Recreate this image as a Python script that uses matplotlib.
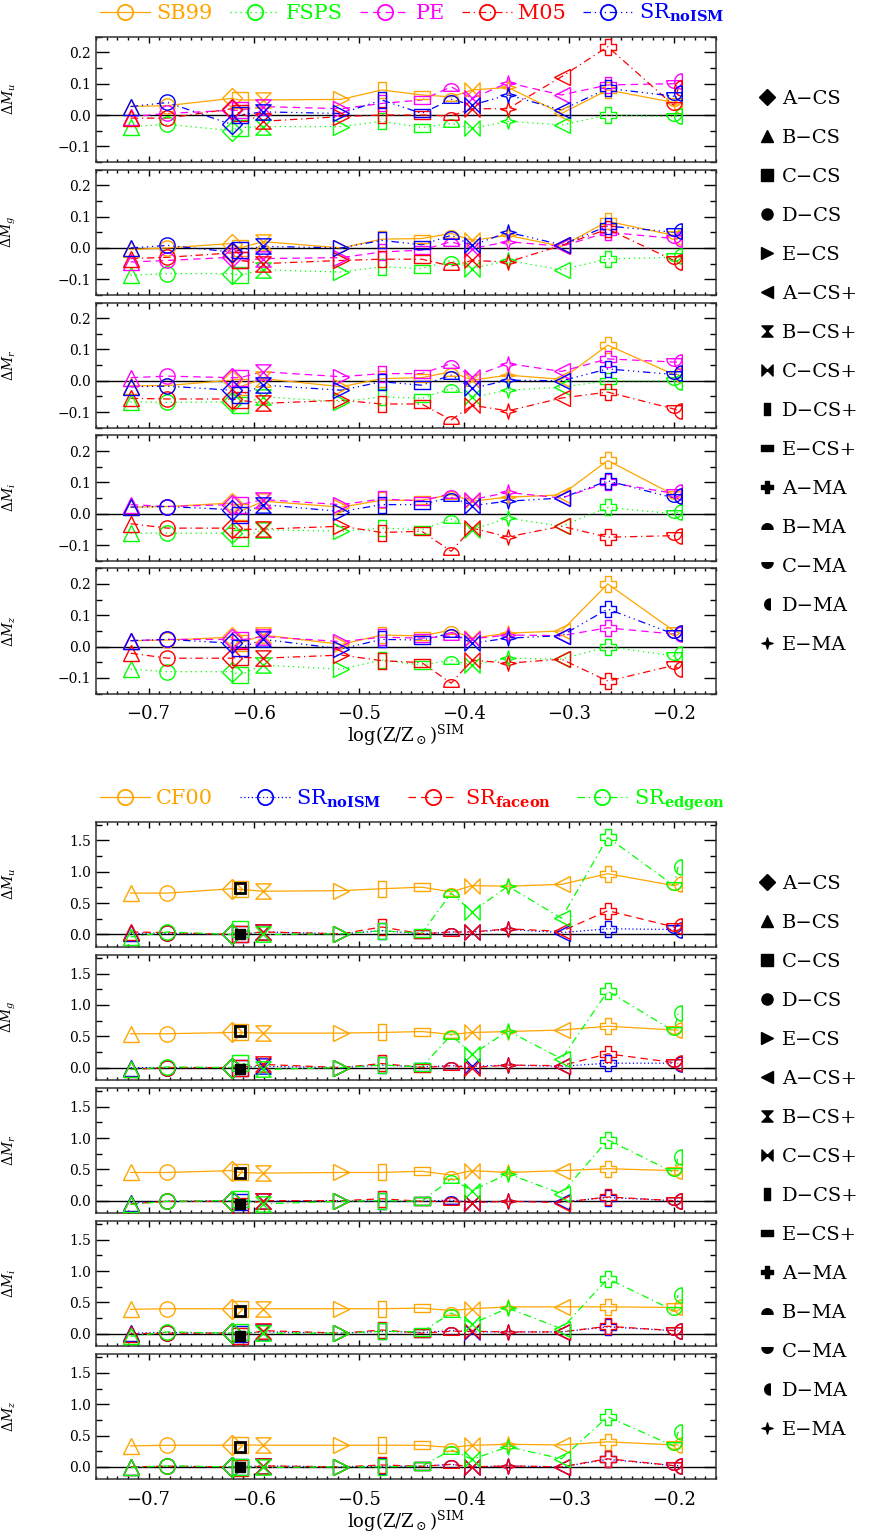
import numpy as np
import matplotlib
matplotlib.use("Agg")
import matplotlib.pyplot as plt
from matplotlib.path import Path
from matplotlib.lines import Line2D
from matplotlib.ticker import MultipleLocator

plt.rcParams['font.family'] = ['DejaVu Serif']
plt.rcParams['mathtext.fontset'] = 'dejavuserif'

# ---- data -------------------------------------------------------------
models = ["A-CS", "B-CS", "C-CS", "D-CS", "E-CS",
          "A-CS+", "B-CS+", "C-CS+", "D-CS+", "E-CS+",
          "A-MA", "B-MA", "C-MA", "D-MA", "E-MA"]
logz = [-0.621, -0.717, -0.613, -0.682, -0.5165,
        -0.307, -0.591, -0.392, -0.478, -0.440,
        -0.263, -0.412, -0.200, -0.196, -0.358]
bands = ["u", "g", "r", "i", "z"]

# top block: SPS model differences
sb99 = {
    "u": [0.053, 0.027, 0.048, 0.030, 0.050, 0.005, 0.048, 0.080, 0.080, 0.064, 0.080, 0.058, 0.040, 0.030, 0.088],
    "g": [0.014, -0.005, 0.000, 0.000, 0.000, 0.005, 0.020, 0.024, 0.028, 0.030, 0.085, 0.046, 0.040, 0.035, 0.040],
    "r": [0.002, -0.016, -0.019, -0.015, -0.019, 0.005, 0.007, 0.002, 0.007, 0.010, 0.114, 0.029, 0.020, 0.020, 0.018],
    "i": [0.034, 0.021, 0.007, 0.023, 0.021, 0.060, 0.040, 0.040, 0.043, 0.043, 0.170, 0.061, 0.060, 0.055, 0.053],
    "z": [0.030, 0.019, 0.011, 0.021, 0.007, 0.050, 0.037, 0.027, 0.037, 0.034, 0.200, 0.053, 0.050, 0.045, 0.043],
}
fsps = {
    "u": [-0.050, -0.037, -0.040, -0.030, -0.037, -0.032, -0.037, -0.043, -0.020, -0.040, 0.000, -0.027, -0.005, -0.003, -0.020],
    "g": [-0.082, -0.087, -0.087, -0.082, -0.077, -0.070, -0.070, -0.066, -0.060, -0.066, -0.035, -0.040, -0.030, -0.025, -0.040],
    "r": [-0.067, -0.067, -0.078, -0.069, -0.067, -0.020, -0.051, -0.053, -0.051, -0.056, 0.000, -0.024, 0.000, -0.005, -0.030],
    "i": [-0.062, -0.062, -0.078, -0.062, -0.056, -0.040, -0.051, -0.051, -0.046, -0.051, 0.020, -0.017, 0.000, 0.005, -0.014],
    "z": [-0.080, -0.072, -0.090, -0.080, -0.072, -0.040, -0.059, -0.059, -0.043, -0.059, 0.000, -0.043, -0.030, -0.025, -0.037],
}
pe = {
    "u": [0.015, -0.005, 0.015, 0.005, 0.020, 0.064, 0.027, 0.053, 0.037, 0.048, 0.096, 0.090, 0.100, 0.110, 0.103],
    "g": [-0.030, -0.045, -0.040, -0.040, -0.031, 0.005, -0.034, -0.002, -0.013, -0.007, 0.050, 0.020, 0.030, 0.030, 0.020],
    "r": [0.010, 0.010, 0.010, 0.015, 0.013, 0.030, 0.029, 0.013, 0.023, 0.023, 0.070, 0.055, 0.060, 0.060, 0.055],
    "i": [0.029, 0.029, 0.029, 0.023, 0.029, 0.050, 0.045, 0.045, 0.047, 0.041, 0.100, 0.064, 0.065, 0.070, 0.068],
    "z": [0.023, 0.019, 0.021, 0.023, 0.016, 0.035, 0.032, 0.025, 0.030, 0.027, 0.060, 0.034, 0.040, 0.040, 0.037],
}
m05 = {
    "u": [0.020, -0.010, 0.005, -0.010, -0.005, 0.122, -0.020, 0.020, 0.000, 0.000, 0.218, -0.003, 0.030, 0.085, 0.020],
    "g": [-0.016, -0.034, -0.040, -0.030, -0.040, 0.008, -0.050, -0.040, -0.036, -0.036, 0.060, -0.058, -0.040, -0.045, -0.045],
    "r": [-0.058, -0.056, -0.062, -0.058, -0.062, -0.055, -0.072, -0.078, -0.074, -0.074, -0.036, -0.125, -0.090, -0.095, -0.096],
    "i": [-0.046, -0.032, -0.050, -0.046, -0.040, -0.040, -0.049, -0.046, -0.060, -0.056, -0.075, -0.120, -0.070, -0.072, -0.074],
    "z": [-0.037, -0.021, -0.034, -0.037, -0.027, -0.040, -0.037, -0.043, -0.045, -0.051, -0.110, -0.117, -0.060, -0.070, -0.053],
}
sr_noism_top = {
    "u": [-0.030, 0.027, 0.000, 0.040, 0.005, 0.016, 0.010, 0.032, 0.048, 0.005, 0.085, 0.050, 0.060, 0.070, 0.064],
    "g": [-0.013, 0.000, -0.007, 0.008, 0.000, 0.010, 0.005, 0.008, 0.024, 0.010, 0.070, 0.040, 0.050, 0.055, 0.050],
    "r": [-0.030, -0.019, -0.046, -0.017, -0.030, 0.000, -0.014, -0.024, -0.003, -0.014, 0.038, 0.018, 0.020, 0.025, 0.002],
    "i": [0.013, 0.021, -0.003, 0.023, 0.007, 0.050, 0.029, 0.026, 0.029, 0.029, 0.105, 0.053, 0.050, 0.055, 0.040],
    "z": [0.011, 0.019, -0.005, 0.023, -0.007, 0.035, 0.023, 0.011, 0.023, 0.021, 0.120, 0.043, 0.040, 0.045, 0.027],
}

# bottom block: dust treatments
cf00 = {
    "u": [0.73, 0.66, 0.72, 0.66, 0.70, 0.80, 0.69, 0.78, 0.73, 0.755, 0.97, 0.68, 0.78, 0.80, 0.77],
    "g": [0.56, 0.54, 0.56, 0.54, 0.55, 0.60, 0.55, 0.56, 0.56, 0.575, 0.66, 0.53, 0.60, 0.60, 0.575],
    "r": [0.48, 0.45, 0.45, 0.45, 0.45, 0.48, 0.44, 0.48, 0.45, 0.47, 0.51, 0.41, 0.48, 0.48, 0.45],
    "i": [0.40, 0.39, 0.40, 0.40, 0.40, 0.43, 0.40, 0.40, 0.40, 0.41, 0.43, 0.37, 0.42, 0.42, 0.43],
    "z": [0.345, 0.335, 0.35, 0.345, 0.345, 0.35, 0.345, 0.345, 0.345, 0.345, 0.40, 0.31, 0.35, 0.35, 0.36],
}
sr_noism = {
    "u": [0.00, 0.02, 0.00, 0.02, 0.01, 0.03, 0.04, 0.04, 0.06, 0.01, 0.09, 0.04, 0.08, 0.07, 0.08],
    "g": [0.00, 0.00, 0.00, 0.00, 0.00, 0.02, 0.02, 0.02, 0.04, 0.01, 0.07, 0.03, 0.07, 0.06, 0.04],
    "r": [0.00, -0.03, -0.02, -0.01, 0.00, -0.02, -0.01, -0.03, -0.01, -0.01, 0.05, 0.01, 0.00, 0.00, -0.01],
    "i": [0.01, 0.01, 0.00, 0.02, 0.01, 0.03, 0.03, 0.03, 0.04, 0.02, 0.11, 0.05, 0.05, 0.05, 0.03],
    "z": [0.00, 0.00, 0.00, 0.01, 0.00, 0.00, 0.015, 0.00, 0.01, 0.01, 0.12, 0.04, 0.02, 0.02, 0.015],
}
sr_faceon = {
    "u": [0.00, 0.04, 0.01, 0.03, 0.01, 0.05, 0.04, 0.04, 0.12, 0.01, 0.38, 0.04, 0.12, 0.14, 0.09],
    "g": [0.00, -0.03, 0.00, 0.00, 0.00, 0.03, 0.05, 0.00, 0.065, 0.00, 0.22, 0.03, 0.08, 0.07, 0.04],
    "r": [-0.01, -0.05, -0.08, -0.01, 0.00, -0.03, 0.00, -0.03, 0.03, -0.01, 0.06, -0.01, 0.00, -0.01, -0.01],
    "i": [0.01, 0.00, -0.03, 0.01, 0.01, 0.03, 0.05, 0.04, 0.06, 0.01, 0.12, 0.04, 0.05, 0.04, 0.03],
    "z": [0.00, 0.00, -0.02, 0.01, 0.00, 0.00, 0.015, 0.00, 0.03, 0.01, 0.13, 0.04, 0.02, 0.02, 0.015],
}
sr_edgeon = {
    "u": [0.00, -0.04, 0.08, 0.04, 0.01, 0.26, 0.00, 0.36, 0.06, 0.02, 1.55, 0.66, 0.78, 1.08, 0.77],
    "g": [0.00, -0.03, 0.08, 0.01, 0.00, 0.14, -0.03, 0.21, 0.04, 0.01, 1.22, 0.52, 0.58, 0.87, 0.585],
    "r": [0.00, -0.06, 0.03, -0.01, -0.01, 0.11, -0.05, 0.16, 0.00, -0.01, 0.97, 0.35, 0.45, 0.70, 0.43],
    "i": [0.01, -0.04, 0.03, 0.03, 0.01, 0.08, 0.01, 0.16, 0.04, 0.03, 0.88, 0.33, 0.37, 0.62, 0.41],
    "z": [0.00, -0.01, 0.00, 0.015, 0.00, 0.13, -0.01, 0.12, 0.00, 0.01, 0.80, 0.27, 0.33, 0.56, 0.32],
}
# C-CS highlighted in black (open: CF00 level, filled: no-dust level)
ccs_open = {"u": 0.745, "g": 0.585, "r": 0.44, "i": 0.37, "z": 0.31}
ccs_fill = {"u": 0.00, "g": -0.03, "r": -0.05, "i": -0.03, "z": -0.01}


# ---- marker shapes ----------------------------------------------------
def poly(pts):
    pts = [tuple(p) for p in pts]
    pts = pts + [pts[0]]
    codes = [Path.MOVETO] + [Path.LINETO] * (len(pts) - 2) + [Path.CLOSEPOLY]
    return Path(pts, codes)


def half(a0):
    t = np.radians(np.linspace(a0, a0 + 180, 31))
    mid = np.radians(a0 + 90)
    pts = np.column_stack([np.cos(t), np.sin(t)]) - 0.5 * np.array([np.cos(mid), np.sin(mid)])
    return poly(pts)


a = 0.33
b = 0.22
marks = {
    "A-CS": "D", "B-CS": "^", "C-CS": "s", "D-CS": "o", "E-CS": ">",
    "A-CS+": "<",
    "B-CS+": poly([(-1, 1), (1, 1), (-1, -1), (1, -1)]),
    "C-CS+": poly([(-1, 1), (-1, -1), (1, 1), (1, -1)]),
    "D-CS+": poly([(-0.5, -1), (0.5, -1), (0.5, 1), (-0.5, 1)]),
    "E-CS+": poly([(-1, -0.5), (1, -0.5), (1, 0.5), (-1, 0.5)]),
    "A-MA": poly([(-a, 1), (a, 1), (a, a), (1, a), (1, -a), (a, -a), (a, -1),
                  (-a, -1), (-a, -a), (-1, -a), (-1, a), (-a, a)]),
    "B-MA": half(0),
    "C-MA": half(180),
    "D-MA": half(90),
    "E-MA": poly([(0, 1), (b, b), (1, 0), (b, -b), (0, -1), (-b, -b), (-1, 0), (-b, b)]),
}
msize = {"A-CS": 10, "C-CS": 11, "D-CS": 11}

ORANGE, GREEN, MAG, RED, BLUE = "#ffa500", "#00ff00", "#ff00ff", "#ff0000", "#0000ff"

top_series = [
    ("SB99", sb99, ORANGE, "-"),
    ("FSPS", fsps, GREEN, (0, (1, 3))),
    ("PE", pe, MAG, (0, (6, 4))),
    ("M05", m05, RED, (0, (6, 3, 1, 3))),
    (r"SR$_{\mathbf{noISM}}$", sr_noism_top, BLUE, (0, (6, 3, 1, 3, 1, 3, 1, 3))),
]
bot_series = [
    ("CF00", cf00, ORANGE, "-"),
    (r"SR$_{\mathbf{noISM}}$", sr_noism, BLUE, (0, (1, 2))),
    (r"SR$_{\mathbf{faceon}}$", sr_faceon, RED, (0, (6, 4))),
    (r"SR$_{\mathbf{edgeon}}$", sr_edgeon, GREEN, (0, (6, 3, 1, 3))),
]

W, H = 876, 1537
fig = plt.figure(figsize=(W / 100, H / 100), dpi=100)
order = np.argsort(logz)
xs = np.array(logz)[order]


def style_axes(ax, ylim, major, minor, last):
    ax.set_xlim(-0.75, -0.16)
    ax.set_ylim(*ylim)
    ax.xaxis.set_major_locator(MultipleLocator(0.1))
    ax.xaxis.set_minor_locator(MultipleLocator(0.01))
    ax.yaxis.set_major_locator(MultipleLocator(major))
    ax.yaxis.set_minor_locator(MultipleLocator(minor))
    ax.tick_params(which="both", direction="in", top=True, right=True, width=1)
    ax.tick_params(axis="x", which="major", length=4.5, labelsize=13, pad=8)
    ax.tick_params(axis="x", which="minor", length=2.2)
    ax.tick_params(axis="y", which="major", length=9, labelsize=10)
    ax.tick_params(axis="y", which="minor", length=4.5)
    for s in ax.spines.values():
        s.set_linewidth(1.1)
        s.set_color("#333333")
    if not last:
        ax.tick_params(axis="x", labelbottom=False)
    else:
        ax.set_xlabel(r"log(Z/Z$_\odot$)$^{\rm SIM}$", fontsize=13, labelpad=0)
    ax.axhline(0, color="black", lw=1.0, zorder=1)


def draw_block(tops, series, ylim, major, minor, legend_y, right_y, black=False):
    axes = []
    for k, band in enumerate(bands):
        ax = fig.add_axes([96 / W, 1 - (tops[k] + 125.3) / H, 620 / W, 125.3 / H])
        style_axes(ax, ylim, major, minor, k == len(bands) - 1)
        ax.set_ylabel(r"$\Delta M_{%s}$" % band, fontsize=10)
        ax.yaxis.set_label_coords(-0.125, 0.5)
        for name, d, col, ls in series:
            vals = np.array(d[band])
            ax.plot(xs, vals[order], color=col, ls=ls, lw=0.9, zorder=2)
            for m, x, v in zip(models, logz, vals):
                ax.plot([x], [v], ls="none", marker=marks[m], ms=msize.get(m, 11),
                        mfc="none", mec=col, mew=1.0, zorder=3)
        if black:
            cx = logz[models.index("C-CS")]
            ax.plot([cx], [ccs_open[band]], ls="none", marker="s", ms=7.5,
                    mfc="none", mec="black", mew=2.0, zorder=4)
            ax.plot([cx], [ccs_fill[band]], ls="none", marker="s", ms=7.5,
                    mfc="black", mec="black", mew=1.0, zorder=4)
        axes.append(ax)

    handles = [Line2D([], [], color=col, ls=ls, lw=0.9, marker="o", ms=11,
                      mfc="none", mec=col, mew=1.3) for _, _, col, ls in series]
    labels = [s[0] for s in series]
    fig.legend(handles, labels, loc="center", ncol=len(series), mode="expand",
               bbox_to_anchor=(100 / W, 1 - legend_y / H, 625 / W, 0),
               frameon=False, fontsize=15, handlelength=2.4, handletextpad=0.3,
               labelcolor="linecolor", borderaxespad=0, borderpad=0, numpoints=1)

    mh = [Line2D([], [], ls="none", marker=marks[m], ms=8, color="black",
                 mfc="black", mec="black") for m in models]
    ml = [m.replace("-", "\u2212") for m in models]
    fig.legend(mh, ml, loc="upper left", bbox_to_anchor=(760 / W, 1 - right_y / H),
               frameon=False, fontsize=14, handlelength=0.7, handletextpad=0.45,
               labelspacing=1.08, borderaxespad=0, borderpad=0)
    return axes


top_tops = [36.7 + k * 132.9 for k in range(5)]
bot_tops = [821.7 + k * 133.1 for k in range(5)]
draw_block(top_tops, top_series, (-0.15, 0.25), 0.1, 0.05, 13, 90)
draw_block(bot_tops, bot_series, (-0.2, 1.8), 0.5, 0.25, 800, 875, black=True)

fig.savefig("out.png", dpi=100)
